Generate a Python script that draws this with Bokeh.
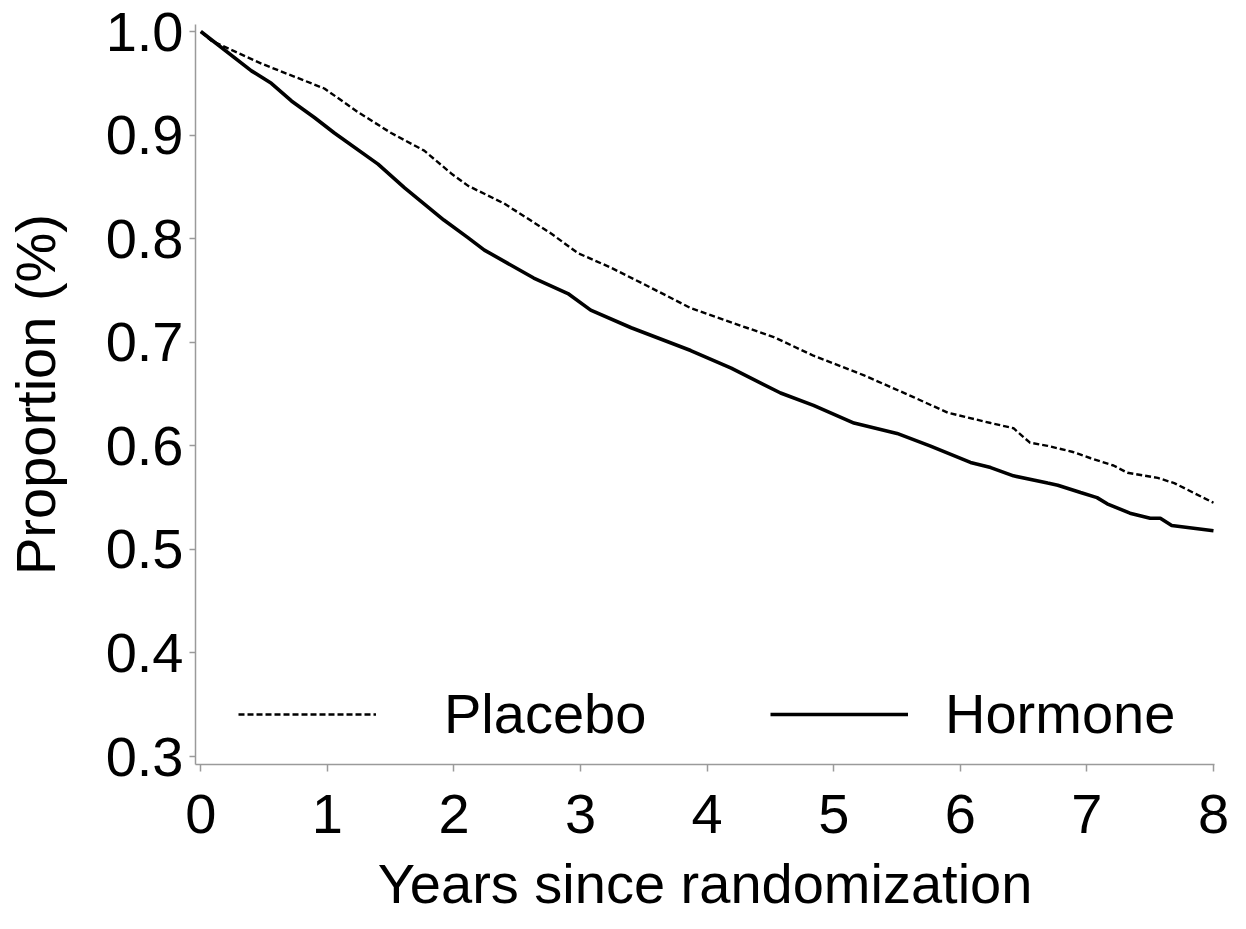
from bokeh.plotting import figure
from bokeh.models import Range1d, FixedTicker, PrintfTickFormatter, Legend, LegendItem, Title
from bokeh.embed import file_html
from bokeh.resources import INLINE

# ---- data ----
placebo_x = [0.0, 0.084, 0.479, 0.976, 1.244, 1.504, 1.765, 1.978, 2.112, 2.396, 2.767, 2.98,
             3.24, 3.55, 3.87, 4.265, 4.526, 4.84, 5.24, 5.63, 5.90, 6.24, 6.42, 6.55, 6.69,
             6.89, 7.03, 7.21, 7.32, 7.56, 7.69, 8.0]
placebo_y = [1.0, 0.991, 0.969, 0.945, 0.922, 0.902, 0.885, 0.863, 0.851, 0.834, 0.805, 0.786,
             0.772, 0.753, 0.733, 0.716, 0.705, 0.687, 0.668, 0.647, 0.632, 0.622, 0.617, 0.603, 0.600,
             0.594, 0.588, 0.581, 0.574, 0.569, 0.564, 0.545]

hormone_x = [0.0, 0.40, 0.557, 0.716, 0.897, 1.055, 1.40, 1.61, 1.92, 2.11, 2.24, 2.63, 2.90,
             3.08, 3.40, 3.87, 4.19, 4.58, 4.84, 5.16, 5.50, 5.76, 6.08, 6.24, 6.42, 6.69, 6.77,
             6.95, 7.08, 7.16, 7.34, 7.50, 7.58, 7.67, 8.0]
hormone_y = [1.0, 0.962, 0.950, 0.933, 0.917, 0.902, 0.872, 0.849, 0.818, 0.801, 0.789, 0.762, 0.747,
             0.731, 0.714, 0.692, 0.675, 0.651, 0.639, 0.622, 0.612, 0.600, 0.584, 0.579, 0.571, 0.564, 0.562,
             0.555, 0.550, 0.544, 0.535, 0.530, 0.530, 0.523, 0.518]

x_ticks = [0, 1, 2, 3, 4, 5, 6, 7, 8]
y_ticks = [0.3, 0.4, 0.5, 0.6, 0.7, 0.8, 0.9, 1.0]
series_names = ["Placebo", "Hormone"]
x_title = "Years since randomization"
y_title = "Proportion (%)"

FONT = "Liberation Sans"
W, H = 1232, 928
FL, FT, FW, FH = 194, 24, 1020, 740

p = figure(width=W, height=H, output_backend="svg", toolbar_location=None,
           x_range=Range1d(-0.042, 8.008), y_range=Range1d(0.2923, 1.0068),
           min_border_left=FL, min_border_top=FT,
           min_border_right=W - FL - FW, min_border_bottom=H - FT - FH)
p.outline_line_color = None
p.xgrid.visible = False
p.ygrid.visible = False
p.background_fill_color = "white"
p.border_fill_color = "white"

r_pl = p.line(placebo_x, placebo_y, line_color="black", line_width=2.4, line_dash="6 3")
r_ho = p.line(hormone_x, hormone_y, line_color="black", line_width=3.6)

for ax in (p.xaxis[0], p.yaxis[0]):
    ax.axis_line_color = "#9a9a9a"
    ax.axis_line_width = 1.5
    ax.major_tick_line_color = "#9a9a9a"
    ax.major_tick_line_width = 1.5
    ax.major_tick_in = 0
    ax.minor_tick_line_color = None
    ax.major_label_text_font = FONT
    ax.major_label_text_font_size = "56px"
    ax.major_label_text_color = "black"
    ax.axis_label_text_font = FONT
    ax.axis_label_text_font_size = "56px"
    ax.axis_label_text_font_style = "normal"
    ax.axis_label_text_color = "black"

p.xaxis.ticker = FixedTicker(ticks=x_ticks)
p.yaxis.ticker = FixedTicker(ticks=y_ticks)
p.yaxis.formatter = PrintfTickFormatter(format="%.1f")
p.xaxis.major_tick_out = 7
p.yaxis.major_tick_out = 6
p.xaxis.major_label_standoff = 23
p.yaxis.major_label_standoff = 6
p.yaxis.axis_label = y_title
p.yaxis.axis_label_standoff = 36

# x-axis title placed in the panel below the axis
p.add_layout(Title(text=x_title, align="center", standoff=28, offset=0,
                   text_font=FONT, text_font_size="56px", text_font_style="normal",
                   text_color="black"), "below")

def make_legend(name, renderer, x, standoff):
    lg = Legend(items=[LegendItem(label=name, renderers=[renderer])],
                location=(x, 18), orientation="horizontal",
                glyph_width=138, glyph_height=60, label_height=60,
                label_standoff=standoff, padding=0, margin=0, spacing=0,
                border_line_color=None, background_fill_alpha=0,
                label_text_font=FONT, label_text_font_size="56px",
                label_text_color="black")
    p.add_layout(lg)

make_legend(series_names[0], r_pl, 43, 68)
make_legend(series_names[1], r_ho, 575, 37)

open("out.html", "w").write(file_html(p, INLINE))
